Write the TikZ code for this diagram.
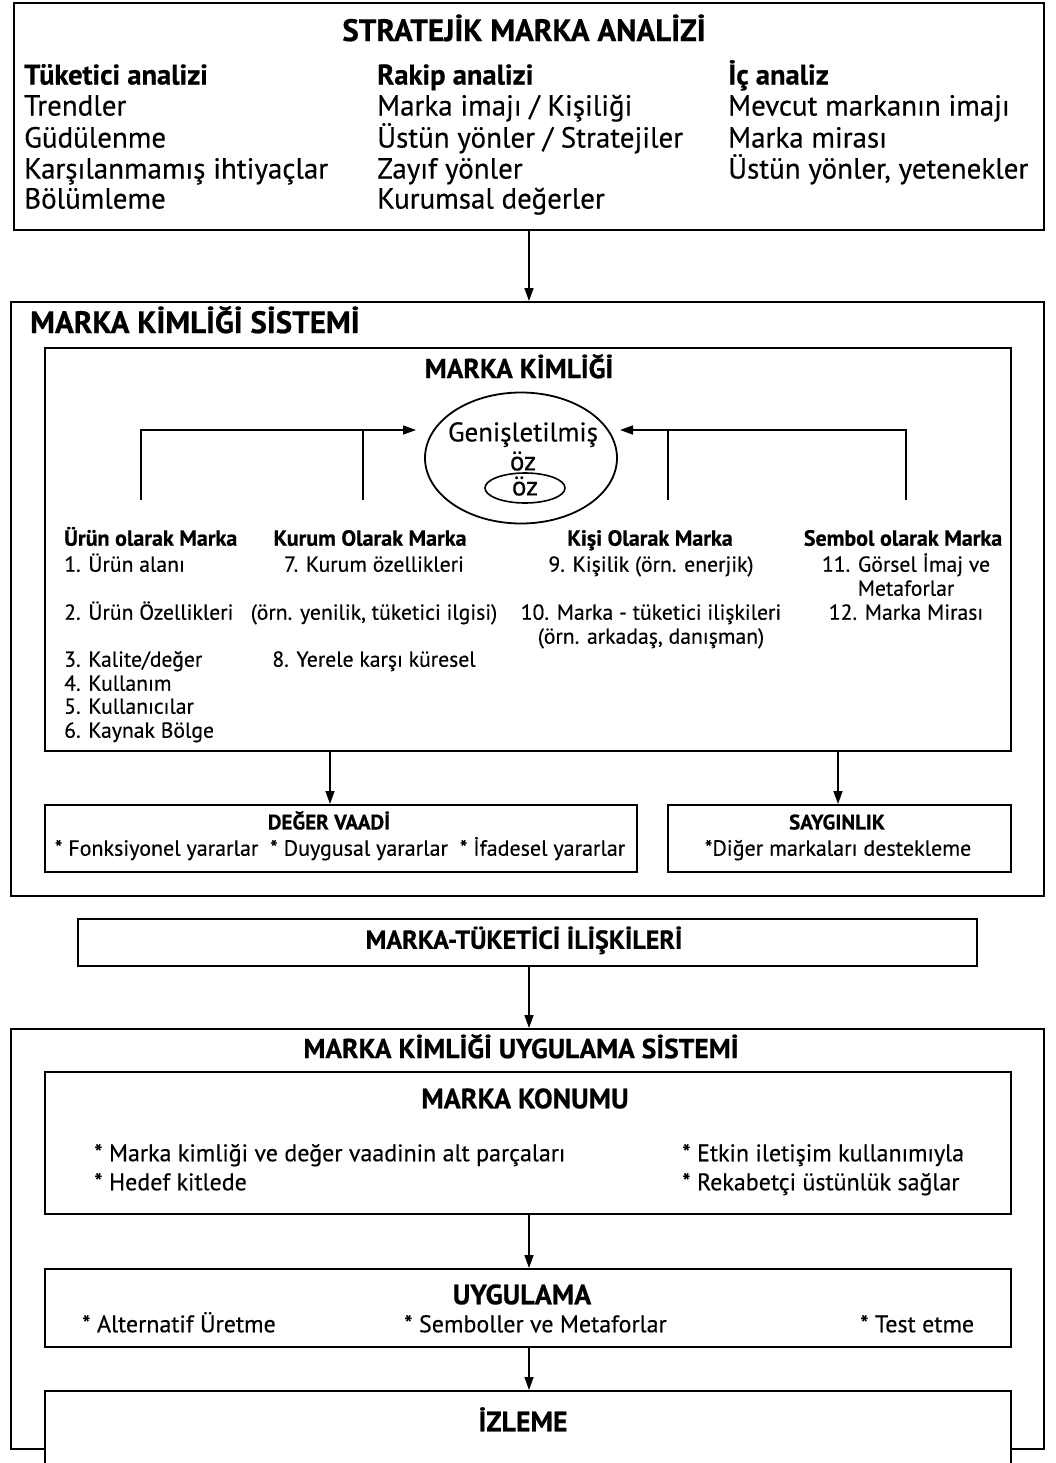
\documentclass[tikz,border=0pt]{standalone}
\usepackage{fontspec}
\setmainfont{PT Sans}[FakeBold=0.35,BoldFeatures={FakeBold=0.6}]
\usetikzlibrary{arrows.meta,shapes.geometric}

% font helper: size in pt with matching leading
\newcommand{\fz}[1]{\fontsize{#1}{#1}\selectfont}

\begin{document}
\begin{tikzpicture}[x=1pt,y=-1pt,
  box/.style={draw,line width=1.8pt,inner sep=0pt,anchor=north west},
  arr/.style={line width=1.5pt,-{Triangle[width=9pt,length=13pt]}},
  link/.style={line width=1.8pt},
  lbl/.style={inner sep=0pt,text height=0.74*#1,text depth=0.22*#1},
  tA/.style={lbl=29pt,anchor=west,font=\fz{29}},
  tAb/.style={lbl=29pt,anchor=west,font=\fz{28.5}\bfseries},
  ttl/.style={lbl=28pt,font=\fz{28}\bfseries},
  hd/.style={lbl=22pt,font=\fz{22}\bfseries},
  it/.style={lbl=22pt,font=\fz{21.7}},
  bl/.style={lbl=24pt,anchor=west,font=\fz{24}},
  core/.style={inner sep=0pt,text height=0.7*27pt,text depth=0.15*27pt,font=\fz{27}}]

\useasboundingbox (0,0) rectangle (1056,1463);
\fill[white] (0,0) rectangle (1056,1463);
\begin{scope}
\clip (0,0) rectangle (1056,1463);

% ---------- strategic brand analysis ----------
\node[box,minimum width=1030pt,minimum height=227pt] (ana) at (13,2) {};
\node[lbl=31pt,font=\fz{31}\bfseries] (anaT) at (524,33) {STRATEJİK MARKA ANALİZİ};
\node[tAb] (c1h) at (24,77)  {Tüketici analizi};
\node[tA]  (c1a) at (24,108) {Trendler};
\node[tA]  (c1b) at (24,140) {Güdülenme};
\node[tA]  (c1c) at (24,171) {Karşılanmamış ihtiyaçlar};
\node[tA]  (c1d) at (24,201) {Bölümleme};
\node[tAb] (c2h) at (377,77)  {Rakip analizi};
\node[tA]  (c2a) at (377,108) {Marka imajı / Kişiliği};
\node[tA]  (c2b) at (377,140) {Üstün yönler / Stratejiler};
\node[tA]  (c2c) at (377,171) {Zayıf yönler};
\node[tA]  (c2d) at (377,201) {Kurumsal değerler};
\node[tAb] (c3h) at (728,77)  {İç analiz};
\node[tA]  (c3a) at (728,108) {Mevcut markanın imajı};
\node[tA]  (c3b) at (728,140) {Marka mirası};
\node[tA]  (c3c) at (728,171) {Üstün yönler, yetenekler};

% ---------- brand identity system ----------
\node[box,minimum width=1033pt,minimum height=594pt] (sys) at (10,301) {};
\node[lbl=31pt,anchor=west,font=\fz{31}\bfseries] (sysT) at (30,325) {MARKA KİMLİĞİ SİSTEMİ};
\draw[arr] (ana.south -| 529,0) -- (sys.north -| 529,0);

\node[box,minimum width=966pt,minimum height=403pt] (kim) at (44,347) {};
\node[lbl=27.5pt,font=\fz{27.5}\bfseries] (kimT) at (519,371) {MARKA KİMLİĞİ};

\node[draw,ellipse,line width=1.8pt,minimum width=192pt,minimum height=131pt,inner sep=0pt] (genis) at (521,458) {};
\node[core] (genisT) at (523,434) {Genişletilmiş};
\node[core] (ozA) at (523,463) {öz};
\node[draw,ellipse,line width=1.6pt,minimum width=80pt,minimum height=30pt,inner sep=0pt] (oz) at (525,488) {};
\node[core] (ozB) at (oz.center) {öz};

% feeders into the core
\coordinate (lA) at (141,500);
\coordinate (lB) at (363,500);
\coordinate (lTip) at (416,430);
\coordinate (rA) at (906,500);
\coordinate (rB) at (668,500);
\coordinate (rTip) at (620,430);
\draw[link] (lB) -- (lB |- lTip);
\draw[link] (rB) -- (rB |- rTip);
\draw[link] (lA) -- (lA |- lTip) -- ([xshift=-10pt]lTip);
\draw[link] (rA) -- (rA |- rTip) -- ([xshift=10pt]rTip);
\draw[arr] ([xshift=-12pt]lTip) -- (lTip);
\draw[arr] ([xshift=12pt]rTip) -- (rTip);

% four perspectives
\node[hd,anchor=west] (pH1) at (64,540)  {Ürün olarak Marka};
\node[hd] (pH2) at (370,540) {Kurum Olarak Marka};
\node[hd] (pH3) at (650,540) {Kişi Olarak Marka};
\node[hd] (pH4) at (903,540) {Sembol olarak Marka};

\node[it,anchor=west] (p1a) at (64,566) {1. Ürün alanı};
\node[it,anchor=west] (p1b) at (64,614) {2. Ürün Özellikleri};
\node[it,anchor=west] (p1c) at (64,661) {3. Kalite/değer};
\node[it,anchor=west] (p1d) at (64,685) {4. Kullanım};
\node[it,anchor=west] (p1e) at (64,708) {5. Kullanıcılar};
\node[it,anchor=west] (p1f) at (64,732) {6. Kaynak Bölge};

\node[it] (p2a) at (374,566) {7. Kurum özellikleri};
\node[it] (p2b) at (374,614) {(örn. yenilik, tüketici ilgisi)};
\node[it] (p2c) at (374,661) {8. Yerele karşı küresel};

\node[it] (p3a) at (651,566) {9. Kişilik (örn. enerjik)};
\node[it] (p3b) at (651,614) {10. Marka - tüketici ilişkileri};
\node[it] (p3c) at (651,638) {(örn. arkadaş, danışman)};

\node[it] (p4a) at (906,566) {11. Görsel İmaj ve};
\node[it] (p4b) at (906,590) {Metaforlar};
\node[it] (p4c) at (906,614) {12. Marka Mirası};

% value proposition and credibility
\node[box,minimum width=592pt,minimum height=67pt] (deg) at (44,804) {};
\node[box,minimum width=343pt,minimum height=67pt] (say) at (667,804) {};
\node[lbl=21pt,font=\fz{21}\bfseries] (degT) at (329,824) {DEĞER VAADİ};
\node[lbl=22pt,font=\fz{22}] (degL) at (340,850) {* Fonksiyonel yararlar \ * Duygusal yararlar \ * İfadesel yararlar};
\node[lbl=21pt,font=\fz{21}\bfseries] (sayT) at (837,824) {SAYGINLIK};
\node[lbl=22pt,font=\fz{22}] (sayL) at (838,850) {*Diğer markaları destekleme};
\draw[arr] (kim.south -| 330,0) -- (deg.north -| 330,0);
\draw[arr] (kim.south -| 838,0) -- (say.north -| 838,0);

% ---------- brand-customer relationship ----------
\node[box,minimum width=899pt,minimum height=47pt] (rel) at (77,918) {};
\node[lbl=26pt,font=\fz{26}\bfseries] (relT) at (524,942) {MARKA-TÜKETİCİ İLİŞKİLERİ};

% ---------- implementation system ----------
\node[box,minimum width=1033pt,minimum height=420pt] (imp) at (10,1028) {};
\node[lbl=27.5pt,font=\fz{27.5}\bfseries] (impT) at (521,1051) {MARKA KİMLİĞİ UYGULAMA SİSTEMİ};
\draw[arr] (rel.south -| 529,0) -- (imp.north -| 529,0);

\node[box,minimum width=966pt,minimum height=142pt] (kon) at (44,1071) {};
\node[ttl] (konT) at (525,1101) {MARKA KONUMU};
\node[bl] (k1) at (94,1155) {* Marka kimliği ve değer vaadinin alt parçaları};
\node[bl] (k2) at (94,1184) {* Hedef kitlede};
\node[bl] (k3) at (682,1155) {* Etkin iletişim kullanımıyla};
\node[bl] (k4) at (682,1184) {* Rekabetçi üstünlük sağlar};

\node[box,minimum width=966pt,minimum height=78pt] (uyg) at (44,1268) {};
\node[ttl] (uygT) at (522,1297) {UYGULAMA};
\node[bl] (u1) at (82,1326) {* Alternatif Üretme};
\node[bl] (u2) at (404,1326) {* Semboller ve Metaforlar};
\node[bl] (u3) at (860,1326) {* Test etme};
\draw[arr] (kon.south -| 529,0) -- (uyg.north -| 529,0);

\node[box,fill=white,minimum width=966pt,minimum height=100pt] (izl) at (44,1390) {};
\node[ttl] (izlT) at (523,1424) {İZLEME};
\draw[arr] (uyg.south -| 529,0) -- (izl.north -| 529,0);
\end{scope}
\end{tikzpicture}
\end{document}
